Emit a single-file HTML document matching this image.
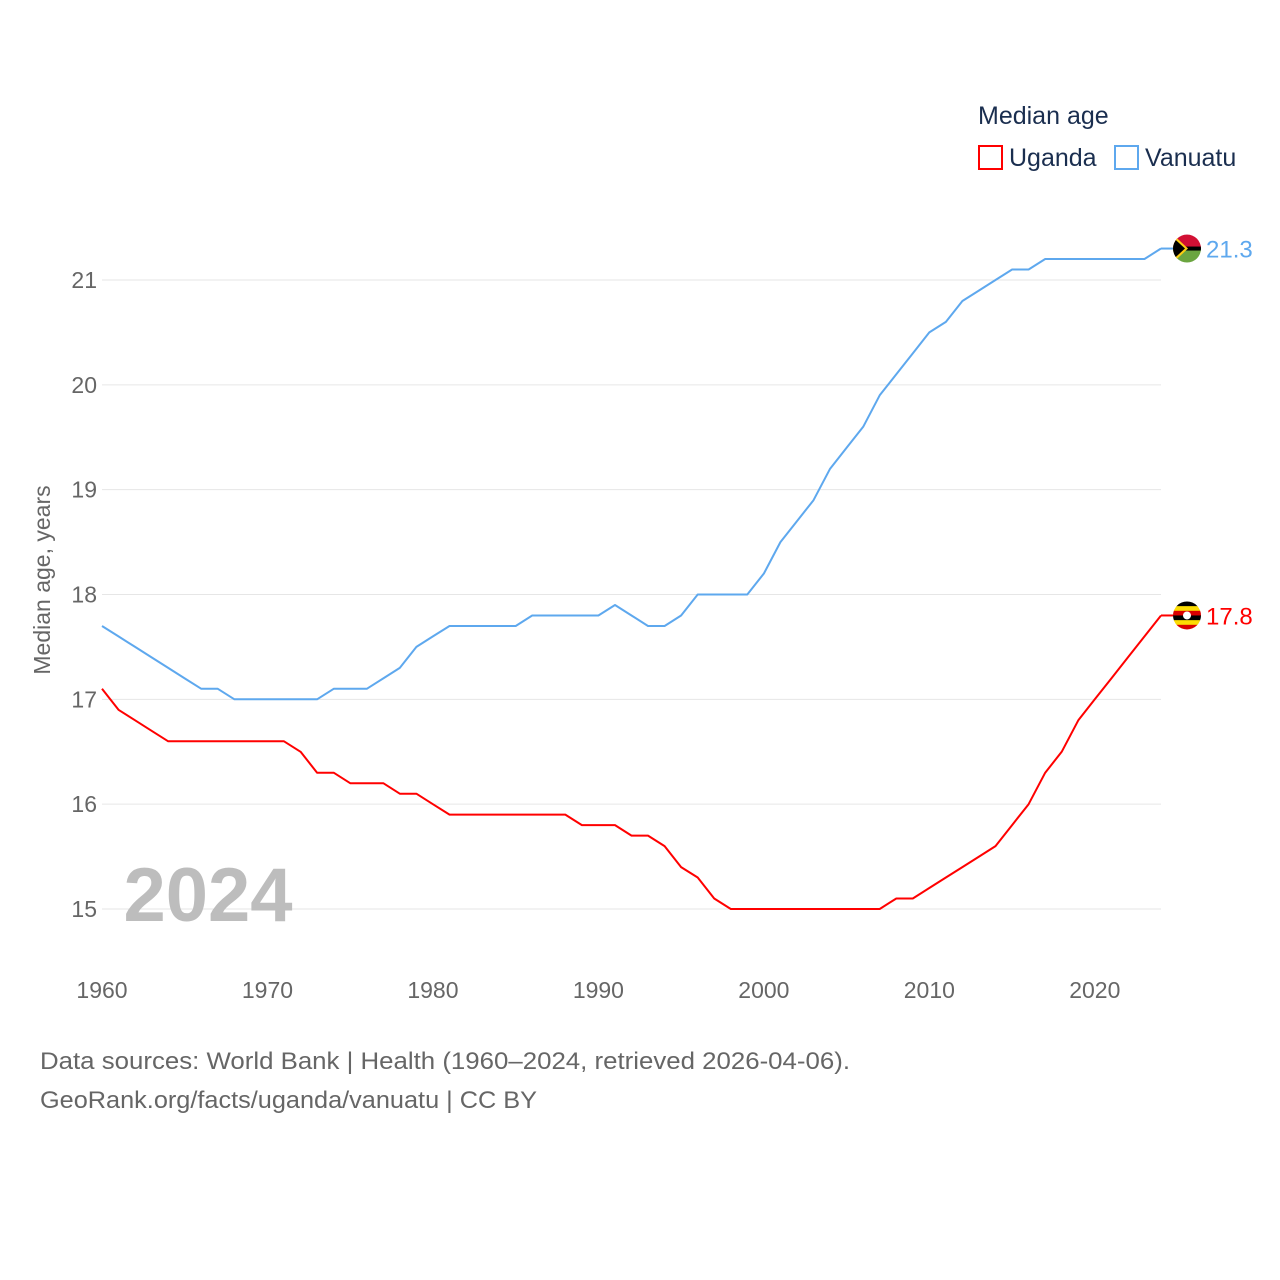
<!DOCTYPE html>
<html><head><meta charset="utf-8"><style>
html,body{margin:0;padding:0;background:#fff;}
svg{display:block;font-family:"Liberation Sans",sans-serif;}
</style></head><body>
<svg id="chart" width="1280" height="1280" viewBox="0 0 1280 1280">
<g id="grid"></g>
<g id="yticks"></g>
<g id="xticks"></g>
<text x="208" y="921" font-size="76" font-weight="bold" fill="#bdbdbd" text-anchor="middle">2024</text>
<text transform="translate(50,580) rotate(-90)" font-size="23" fill="#666" text-anchor="middle">Median age, years</text>
<g id="series"></g>
<g>
<text x="978" y="124" font-size="25" fill="#1a2e4f">Median age</text>
<g><rect x="979" y="146" width="23" height="23" fill="none" stroke="#ff0000" stroke-width="2"/><text x="1009" y="166" font-size="25" fill="#1a2e4f">Uganda</text></g>
<g><rect x="1115" y="146" width="23" height="23" fill="none" stroke="#5ea8ee" stroke-width="2"/><text x="1145" y="166" font-size="25" fill="#1a2e4f">Vanuatu</text></g>
</g>
<text x="40" y="1069" font-size="24" fill="#666" textLength="810" lengthAdjust="spacingAndGlyphs">Data sources: World Bank | Health (1960–2024, retrieved 2026-04-06).</text>
<text x="40" y="1108" font-size="24" fill="#666" textLength="497" lengthAdjust="spacingAndGlyphs">GeoRank.org/facts/uganda/vanuatu | CC BY</text>
</svg>
<script>
const years = [];
for (let y = 1960; y <= 2024; y++) years.push(y);
const uganda = [17.1,16.9,16.8,16.7,16.6,16.6,16.6,16.6,16.6,16.6,16.6,16.6,16.5,16.3,16.3,16.2,16.2,16.2,16.1,16.1,16.0,15.9,15.9,15.9,15.9,15.9,15.9,15.9,15.9,15.8,15.8,15.8,15.7,15.7,15.6,15.4,15.3,15.1,15.0,15.0,15.0,15.0,15.0,15.0,15.0,15.0,15.0,15.0,15.1,15.1,15.2,15.3,15.4,15.5,15.6,15.8,16.0,16.3,16.5,16.8,17.0,17.2,17.4,17.6,17.8];
const vanuatu = [17.7,17.6,17.5,17.4,17.3,17.2,17.1,17.1,17.0,17.0,17.0,17.0,17.0,17.0,17.1,17.1,17.1,17.2,17.3,17.5,17.6,17.7,17.7,17.7,17.7,17.7,17.8,17.8,17.8,17.8,17.8,17.9,17.8,17.7,17.7,17.8,18.0,18.0,18.0,18.0,18.2,18.5,18.7,18.9,19.2,19.4,19.6,19.9,20.1,20.3,20.5,20.6,20.8,20.9,21.0,21.1,21.1,21.2,21.2,21.2,21.2,21.2,21.2,21.2,21.3];
const yTicks = [15,16,17,18,19,20,21];
const xTicks = [1960,1970,1980,1990,2000,2010,2020];

const NS = "http://www.w3.org/2000/svg";
const xS = v => 102 + (v - 1960) * (1161 - 102) / 64;
const yS = v => 909 - (v - 15) * (909 - 280) / 6;
function mk(tag, attrs, parent){const e=document.createElementNS(NS,tag);for(const k in attrs)e.setAttribute(k,attrs[k]);parent.appendChild(e);return e;}

const grid=document.getElementById('grid'), yt=document.getElementById('yticks'), xt=document.getElementById('xticks'), ser=document.getElementById('series');
yTicks.forEach(t=>{
  const l=mk('line',{x1:102,x2:1161,y1:yS(t),y2:yS(t),stroke:'#e6e6e6','stroke-width':1},grid);
  
  
  const tx=mk('text',{x:97,y:yS(t)+8,'font-size':23,fill:'#666','text-anchor':'end'},yt);
  tx.textContent=t;
  
  
});
xTicks.forEach(t=>{
  const tx=mk('text',{x:xS(t),y:998,'font-size':23,fill:'#666','text-anchor':'middle'},xt);
  tx.textContent=t;
  
  
});
function line(vals,color,name){
  const d=vals.map((v,i)=>(i?'L':'M')+xS(years[i]).toFixed(1)+','+yS(v).toFixed(1)).join('');
  const p=mk('path',{d:d,fill:'none',stroke:color,'stroke-width':2,'stroke-linejoin':'round'},ser);
  
  
  const last=vals[vals.length-1], ly=yS(last);
  const g=mk('g',{},ser);
  
  
  const cx=1187;
  mk('line',{x1:1161,x2:cx-14,y1:ly,y2:ly,stroke:color,'stroke-width':2},g);
  const cid='clip-'+name;
  const cp=mk('clipPath',{id:cid},g); mk('circle',{cx:cx,cy:ly,r:14},cp);
  const fg=mk('g',{'clip-path':'url(#'+cid+')'},g);
  if(name==='uganda'){
    const cols=['#000','#fcdc04','#d90000','#000','#fcdc04','#d90000'];
    cols.forEach((c,i)=>mk('rect',{x:cx-14,y:ly-14+i*28/6,width:28,height:28/6+0.5,fill:c},fg));
    mk('circle',{cx:cx,cy:ly,r:4,fill:'#fff'},fg);
  } else {
    mk('rect',{x:cx-14,y:ly-14,width:28,height:14,fill:'#d21034'},fg);
    mk('rect',{x:cx-14,y:ly,width:28,height:14,fill:'#6ba540'},fg);
    mk('rect',{x:cx-14,y:ly-2,width:28,height:4,fill:'#000'},fg);
    mk('polygon',{points:(cx-14)+','+(ly-14)+' '+(cx+1)+','+ly+' '+(cx-14)+','+(ly+14),fill:'#fdce12'},fg);
    mk('polygon',{points:(cx-14)+','+(ly-11)+' '+(cx-2)+','+ly+' '+(cx-14)+','+(ly+11),fill:'#000'},fg);
  }
  const tx=mk('text',{x:1206,y:ly+9,'font-size':24,fill:color},g);
  tx.textContent=last.toFixed(1);
  
  
}
line(vanuatu,'#5ea8ee','vanuatu');
line(uganda,'#ff0000','uganda');
</script>
</body></html>
